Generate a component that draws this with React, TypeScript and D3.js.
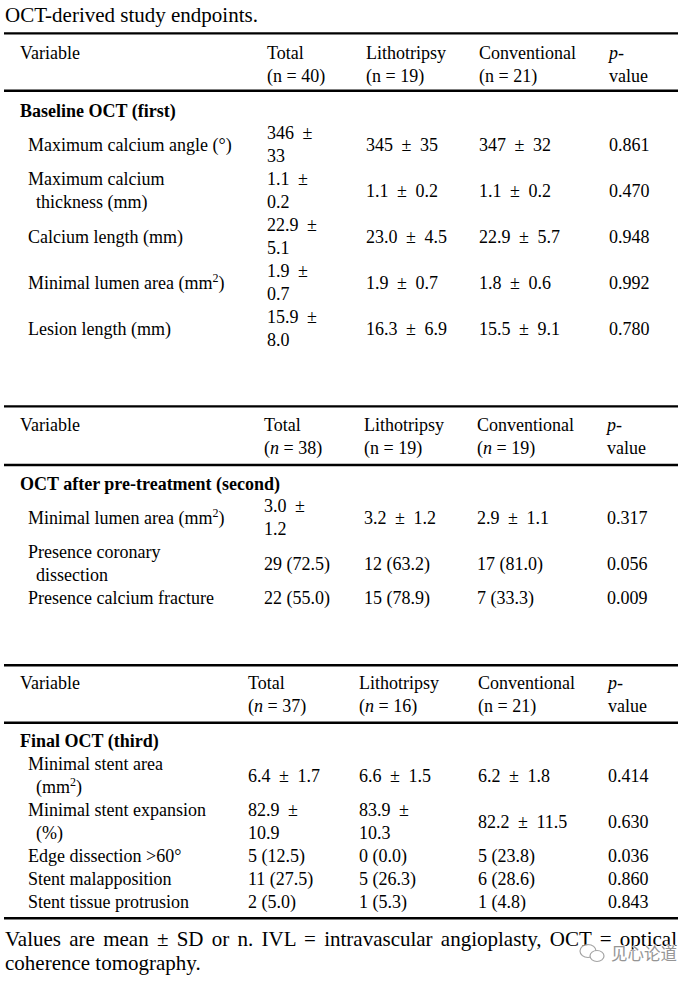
import React, { useLayoutEffect, useRef } from "react";
import * as d3 from "d3";

const title = "OCT-derived study endpoints.";

const t1Header = [["Variable"], ["Total", "(n = 40)"], ["Lithotripsy", "(n = 19)"], ["Conventional", "(n = 21)"], ["_p_-", "value"]];
const t1Section = "Baseline OCT (first)";
const t1Rows = [
  [["Maximum calcium angle (°)"], ["346 ±", "33"], ["345 ± 35"], ["347 ± 32"], ["0.861"]],
  [["Maximum calcium", "thickness (mm)"], ["1.1 ±", "0.2"], ["1.1 ± 0.2"], ["1.1 ± 0.2"], ["0.470"]],
  [["Calcium length (mm)"], ["22.9 ±", "5.1"], ["23.0 ± 4.5"], ["22.9 ± 5.7"], ["0.948"]],
  [["Minimal lumen area (mm^2^)"], ["1.9 ±", "0.7"], ["1.9 ± 0.7"], ["1.8 ± 0.6"], ["0.992"]],
  [["Lesion length (mm)"], ["15.9 ±", "8.0"], ["16.3 ± 6.9"], ["15.5 ± 9.1"], ["0.780"]],
];

const t2Header = [["Variable"], ["Total", "(_n_ = 38)"], ["Lithotripsy", "(n = 19)"], ["Conventional", "(_n_ = 19)"], ["_p_-", "value"]];
const t2Section = "OCT after pre-treatment (second)";
const t2Rows = [
  [["Minimal lumen area (mm^2^)"], ["3.0 ±", "1.2"], ["3.2 ± 1.2"], ["2.9 ± 1.1"], ["0.317"]],
  [["Presence coronary", "dissection"], ["29 (72.5)"], ["12 (63.2)"], ["17 (81.0)"], ["0.056"]],
  [["Presence calcium fracture"], ["22 (55.0)"], ["15 (78.9)"], ["7 (33.3)"], ["0.009"]],
];

const t3Header = [["Variable"], ["Total", "(_n_ = 37)"], ["Lithotripsy", "(_n_ = 16)"], ["Conventional", "(n = 21)"], ["_p_-", "value"]];
const t3Section = "Final OCT (third)";
const t3Rows = [
  [["Minimal stent area", "(mm^2^)"], ["6.4 ± 1.7"], ["6.6 ± 1.5"], ["6.2 ± 1.8"], ["0.414"]],
  [["Minimal stent expansion", "(%)"], ["82.9 ±", "10.9"], ["83.9 ±", "10.3"], ["82.2 ± 11.5"], ["0.630"]],
  [["Edge dissection >60°"], ["5 (12.5)"], ["0 (0.0)"], ["5 (23.8)"], ["0.036"]],
  [["Stent malapposition"], ["11 (27.5)"], ["5 (26.3)"], ["6 (28.6)"], ["0.860"]],
  [["Stent tissue protrusion"], ["2 (5.0)"], ["1 (5.3)"], ["1 (4.8)"], ["0.843"]],
];

const footerLines = [
  "Values are mean ± SD or n. IVL = intravascular angioplasty, OCT = optical",
  "coherence tomography.",
];
const watermark = "见心论道";

const FONT = "'Liberation Serif', 'Times New Roman', serif";
const LH = 23;
const X0 = 4;
const X1 = 678;

const tables = [
  { header: t1Header, section: t1Section, rows: t1Rows, top: 33.4, headBase: 58.5, headLine: 90.7, secBase: 116.5, rowBase: 139, cols: [20, 267, 366, 479, 609], bottom: null as number | null },
  { header: t2Header, section: t2Section, rows: t2Rows, top: 406.4, headBase: 431, headLine: 465, secBase: 490, rowBase: 512, cols: [20, 264, 364, 477, 607], bottom: null as number | null },
  { header: t3Header, section: t3Section, rows: t3Rows, top: 665.3, headBase: 689, headLine: 722.7, secBase: 747, rowBase: 770, cols: [20, 248, 359, 478, 608], bottom: 918.3 as number | null },
];

function rich(s: string) {
  const parts = s.split(/(_[^_]+_|\^[^^]+\^)/).filter((p) => p.length > 0);
  let shifted = false;
  return parts.map((p, i) => {
    if (p.startsWith("_") && p.endsWith("_") && p.length > 2) {
      const dy = shifted ? 7 : 0;
      shifted = false;
      return (
        <tspan key={i} fontStyle="italic" dy={dy}>
          {p.slice(1, -1)}
        </tspan>
      );
    }
    if (p.startsWith("^") && p.endsWith("^")) {
      shifted = true;
      return (
        <tspan key={i} fontSize={12} dy={-7}>
          {p.slice(1, -1)}
        </tspan>
      );
    }
    const dy = shifted ? 7 : 0;
    shifted = false;
    return (
      <tspan key={i} dy={dy}>
        {p}
      </tspan>
    );
  });
}

function Table({ t }: { t: (typeof tables)[number] }) {
  const headY = d3.scaleLinear().domain([0, 1]).range([t.headBase, t.headBase + LH]);
  const rowLines = t.rows.map((r) => d3.max(r, (c) => c.length) as number);
  const starts: number[] = [];
  let acc = 0;
  rowLines.forEach((n) => {
    starts.push(acc);
    acc += n;
  });
  const rowY = d3.scaleLinear().domain([0, 1]).range([t.rowBase, t.rowBase + LH]);
  return (
    <g>
      <line x1={X0} x2={X1} y1={t.top} y2={t.top} stroke="#000" strokeWidth={2.4} />
      <line x1={X0} x2={X1} y1={t.headLine} y2={t.headLine} stroke="#000" strokeWidth={2.4} />
      {t.bottom !== null && <line x1={X0} x2={X1} y1={t.bottom} y2={t.bottom} stroke="#000" strokeWidth={2.4} />}
      {t.header.map((cell, ci) =>
        cell.map((ln, li) => (
          <text key={`h${ci}-${li}`} x={t.cols[ci]} y={headY(li)}>
            {rich(ln)}
          </text>
        ))
      )}
      <text x={t.cols[0]} y={t.secBase} fontWeight="bold">
        {t.section}
      </text>
      {t.rows.map((row, ri) =>
        row.map((cell, ci) => {
          const offset = (rowLines[ri] - cell.length) / 2;
          return cell.map((ln, li) => (
            <text
              key={`r${ri}-${ci}-${li}`}
              x={ci === 0 ? (li === 0 ? 28 : 36) : t.cols[ci]}
              y={rowY(starts[ri] + offset + li)}
              wordSpacing={ci > 0 && ln.includes("±") ? 4 : undefined}
            >
              {rich(ln)}
            </text>
          ));
        })
      )}
    </g>
  );
}

export default function App() {
  const footRef = useRef<SVGTextElement>(null);
  useLayoutEffect(() => {
    document.body.style.margin = "0";
    const el = footRef.current;
    if (!el) return;
    el.setAttribute("word-spacing", "0");
    const len = el.getComputedTextLength();
    const spaces = (footerLines[0].match(/ /g) || []).length;
    const target = 677 - 5;
    el.setAttribute("word-spacing", String((target - len) / spaces));
  }, []);

  return (
    <svg
      width={700}
      height={984}
      viewBox="0 0 700 984"
      style={{ display: "block", position: "absolute", left: 0, top: 0, background: "#fff" }}
      fontFamily={FONT}
      fontSize={18}
      fill="#000"
    >
      <rect x={0} y={0} width={700} height={984} fill="#fff" />
      <text x={5} y={22} fontSize={21}>
        {title}
      </text>
      {tables.map((t, i) => (
        <Table key={i} t={t} />
      ))}
      <text ref={footRef} x={5} y={946} fontSize={21}>
        {footerLines[0]}
      </text>
      <text x={5} y={970} fontSize={21}>
        {footerLines[1]}
      </text>
      <g opacity={0.9}>
        <ellipse cx={588} cy={951} rx={8} ry={6.5} fill="#fff" stroke="#9a9a9a" strokeWidth={1.2} />
        <ellipse cx={597} cy={956} rx={7} ry={5.5} fill="#fff" stroke="#9a9a9a" strokeWidth={1.2} />
        <text
          x={611}
          y={960}
          fontFamily="'Noto Sans CJK SC', sans-serif"
          fontSize={16.5}
          fill="#8a8a8a"
          stroke="#fff"
          strokeWidth={1.5}
          paintOrder="stroke"
        >
          {watermark}
        </text>
      </g>
    </svg>
  );
}
